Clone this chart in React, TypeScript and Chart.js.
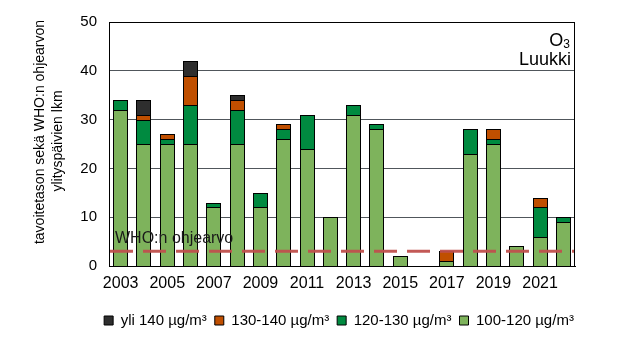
import { useEffect, useRef } from "react";
import { Chart, registerables } from "chart.js";

Chart.register(...registerables);

const years = [
  "2003", "2004", "2005", "2006", "2007", "2008", "2009", "2010", "2011", "2012",
  "2013", "2014", "2015", "2016", "2017", "2018", "2019", "2020", "2021", "2022",
];
const over140 = [0, 3, 0, 3, 0, 1, 0, 0, 0, 0, 0, 0, 0, 0, 0, 0, 0, 0, 0, 0];
const range130to140 = [0, 1, 1, 6, 0, 2, 0, 1, 0, 0, 0, 0, 0, 0, 2, 0, 2, 0, 2, 0];
const range120to130 = [2, 5, 1, 8, 1, 7, 3, 2, 7, 0, 2, 1, 0, 0, 0, 5, 1, 0, 6, 1];
const range100to120 = [32, 25, 25, 25, 12, 25, 12, 26, 24, 10, 31, 28, 2, 0, 1, 23, 25, 4, 6, 9];
const seriesLabels = ["yli 140 µg/m³", "130-140 µg/m³", "120-130 µg/m³", "100-120 µg/m³"];
const WHO_LIMIT = 3;
const whoLabel = "WHO:n ohjearvo";
const yTitleLines = ["tavoitetason sekä WHO:n ohjearvon", "ylityspäivien lkm"];
const pollutant = "O";
const pollutantSub = "3";
const station = "Luukki";
const Y_MIN = 0;
const Y_MAX = 50;
const Y_STEP = 10;

const FONT = "'Liberation Sans', Arial, sans-serif";

const nz = (arr: number[]) => arr.map((v) => (v === 0 ? null : v));

export default function App() {
  const ref = useRef<HTMLCanvasElement | null>(null);

  useEffect(() => {
    if (!ref.current) return;

    const crispBars = {
      id: "crispBars",
      afterLayout(chart: any) {
        // centre the legend row under the plot area
        const lg = chart.legend;
        if (lg) {
          const pad = lg.options.labels.padding || 0;
          const current = (lg.left + pad + lg.right) / 2;
          const target = (chart.chartArea.left + chart.chartArea.right) / 2 + 1;
          const dx = target - current;
          lg.left += dx;
          lg.right += dx;
        }
      },
      beforeDatasetsDraw(chart: any) {
        chart.data.datasets.forEach((_d: any, di: number) => {
          const meta = chart.getDatasetMeta(di);
          meta.data.forEach((bar: any) => {
            const w = Math.round(bar.width);
            bar.x = Math.round(bar.x - w / 2) + w / 2;
            bar.width = w;
            bar.y = Math.round(bar.y);
            bar.base = Math.round(bar.base);
          });
        });
      },
    };

    const overlay = {
      id: "overlay",
      afterDatasetsDraw(chart: any) {
        const { ctx, chartArea } = chart;
        const { left, right, top, bottom } = chartArea;
        const y = chart.scales.y.getPixelForValue(WHO_LIMIT);
        ctx.save();
        // WHO dashed line
        ctx.beginPath();
        ctx.setLineDash([23, 10]);
        ctx.lineWidth = 3;
        ctx.strokeStyle = "rgba(192,80,77,0.95)";
        ctx.moveTo(left + 1, y);
        ctx.lineTo(right, y);
        ctx.stroke();
        ctx.setLineDash([]);
        // WHO label
        ctx.fillStyle = "#1a1a1a";
        ctx.font = `16px ${FONT}`;
        ctx.textAlign = "left";
        ctx.textBaseline = "alphabetic";
        ctx.fillText(whoLabel, left + 6, y - 8);
        // frame
        ctx.lineWidth = 1;
        ctx.strokeStyle = "#000";
        ctx.strokeRect(
          Math.round(left) + 0.5,
          Math.round(top) + 0.5,
          Math.round(right - left) - 1,
          Math.round(bottom - top)
        );
        // pollutant + station
        ctx.fillStyle = "#000";
        ctx.textAlign = "right";
        ctx.font = `12px ${FONT}`;
        const subW = ctx.measureText(pollutantSub).width;
        ctx.fillText(pollutantSub, right - 5, top + 26);
        ctx.font = `18px ${FONT}`;
        ctx.fillText(pollutant, right - 5 - subW, top + 24);
        ctx.fillText(station, right - 4, top + 43);
        ctx.restore();
      },
      afterDraw(chart: any) {
        const { ctx } = chart;
        ctx.save();
        ctx.fillStyle = "#000";
        ctx.font = `14px ${FONT}`;
        ctx.textAlign = "center";
        ctx.textBaseline = "middle";
        const centers = [
          { x: 40, y: 132 },
          { x: 58, y: 141 },
        ];
        yTitleLines.forEach((line, i) => {
          ctx.save();
          ctx.translate(centers[i].x, centers[i].y);
          ctx.rotate(-Math.PI / 2);
          ctx.fillText(line, 0, 0);
          ctx.restore();
        });
        ctx.restore();
      },
    };

    const common = {
      borderColor: "#000",
      borderWidth: 1,
      borderSkipped: "start",
      barPercentage: 0.65,
      categoryPercentage: 1,
    };

    const chart = new Chart(ref.current, {
      type: "bar",
      data: {
        labels: years,
        datasets: [
          { label: seriesLabels[3], data: nz(range100to120), backgroundColor: "#7EB35C", ...common },
          { label: seriesLabels[2], data: nz(range120to130), backgroundColor: "#008A40", ...common },
          { label: seriesLabels[1], data: nz(range130to140), backgroundColor: "#C04F00", ...common },
          { label: seriesLabels[0], data: nz(over140), backgroundColor: "#2E2E2E", ...common },
        ],
      },
      options: {
        animation: false,
        responsive: true,
        maintainAspectRatio: false,
        layout: { padding: { top: 22, right: 66, bottom: 20, left: 0 } },
        plugins: {
          tooltip: { enabled: false },
          legend: {
            position: "bottom",
            align: "center",
            reverse: true,
            labels: {
              boxWidth: 9,
              boxHeight: 9,
              padding: 8,
              color: "#000",
              font: { family: FONT, size: 15 },
            },
          },
        },
        scales: {
          x: {
            stacked: true,
            grid: { display: false, drawTicks: false },
            border: { display: true, color: "#000", width: 1 },
            ticks: {
              autoSkip: false,
              maxRotation: 0,
              padding: 8,
              color: "#000",
              font: { family: FONT, size: 16 },
              callback: (_v: any, i: number) => (i % 2 === 0 ? years[i] : ""),
            },
            afterFit: (s: any) => {
              s.height = 39;
            },
          },
          y: {
            stacked: true,
            min: Y_MIN,
            max: Y_MAX,
            grid: { color: "#50565b", lineWidth: 1, drawTicks: false },
            border: { display: true, color: "#000", width: 1 },
            ticks: {
              stepSize: Y_STEP,
              padding: 12,
              color: "#000",
              font: { family: FONT, size: 15 },
            },
            afterFit: (s: any) => {
              s.width = 109;
            },
          },
        },
      },
      plugins: [crispBars, overlay],
    });

    return () => chart.destroy();
  }, []);

  return (
    <div style={{ position: "fixed", left: 0, top: 0, width: 641, height: 358, background: "#fff" }}>
      <canvas ref={ref} />
    </div>
  );
}
